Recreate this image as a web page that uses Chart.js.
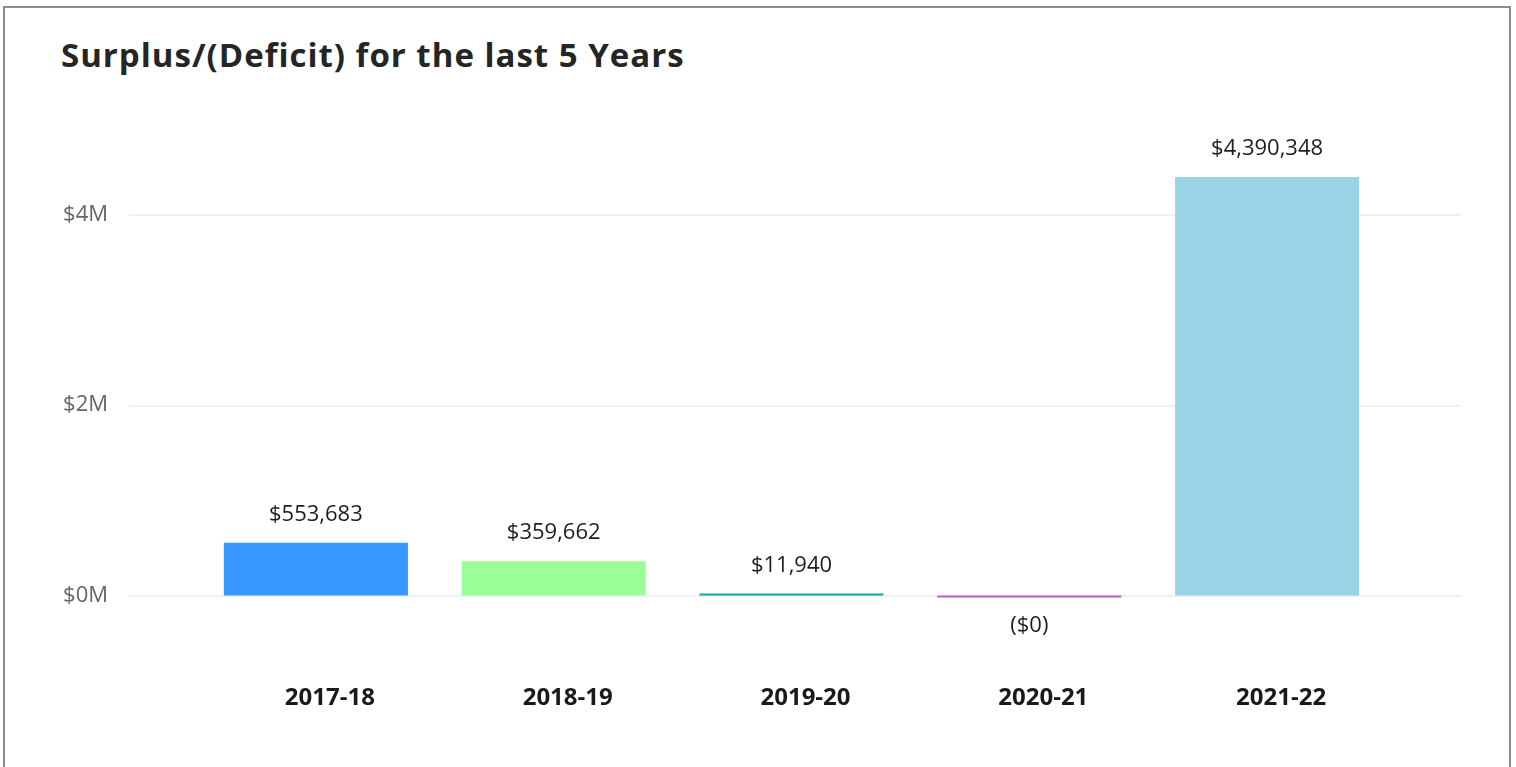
<!DOCTYPE html>
<html>
<head>
<meta charset="utf-8">
<title>Surplus/(Deficit) for the last 5 Years</title>
<script src="https://cdn.jsdelivr.net/npm/chart.js@4.4.1/dist/chart.umd.min.js"></script>
<style>
  html, body { margin: 0; padding: 0; background: #fff; overflow: hidden; }
  .frame {
    position: absolute; left: 3px; top: 6px; width: 1504px; height: 800px;
    border: 2px solid #8c8c8c; box-sizing: content-box;
  }
  .title {
    position: absolute; left: 61px; top: 38px; margin: 0;
    font: bold 33px 'Open Sans', sans-serif; line-height: 1; color: #252525;
    letter-spacing: 1px;
  }
  .chart-box { position: absolute; left: 0; top: 0; width: 1516px; height: 767px; }
</style>
</head>
<body>
<div class="frame"></div>
<h1 class="title">Surplus/(Deficit) for the last 5 Years</h1>
<div class="chart-box"><canvas id="surplusChart"></canvas></div>

<script>
// ===== Data =====
const years = ['2017-18', '2018-19', '2019-20', '2020-21', '2021-22'];
const surplus = [553683, 359662, 11940, -0.3, 4390348];
const barColors = ['#3798FF', '#9BFF99', '#07A8A6', '#BF5BC8', '#9AD3E6'];
const yTicks = [0, 2000000, 4000000];

const fontFamily = "'Open Sans', sans-serif";

// dollar formatting, negatives in brackets
function money(v) {
  const s = '$' + Math.abs(Math.round(v)).toLocaleString('en-US');
  return v < 0 ? '(' + s + ')' : s;
}

// ===== Gridlines that run past the bar area =====
const wideGrid = {
  id: 'wideGrid',
  beforeDatasetsDraw(chart) {
    const { ctx, chartArea, scales: { y } } = chart;
    ctx.save();
    ctx.strokeStyle = '#EFEFF6';
    ctx.lineWidth = 2;
    yTicks.forEach(v => {
      const py = Math.round(y.getPixelForValue(v)) + 1;
      ctx.beginPath();
      ctx.moveTo(chartArea.left - 68, py);
      ctx.lineTo(chartArea.right + 75, py);
      ctx.stroke();
    });
    ctx.restore();
  }
};

// ===== Value labels above / below each bar =====
const valueLabels = {
  id: 'valueLabels',
  afterDatasetsDraw(chart) {
    const { ctx } = chart;
    const meta = chart.getDatasetMeta(0);
    ctx.save();
    ctx.font = '22px ' + fontFamily;
    ctx.fillStyle = '#1e1e1e';
    ctx.textAlign = 'center';
    ctx.textBaseline = 'middle';
    meta.data.forEach((bar, i) => {
      const v = surplus[i];
      const py = v < 0 ? bar.y + 28 : bar.y - 28;
      ctx.fillText(money(v), bar.x, py);
    });
    ctx.restore();
  }
};

new Chart(document.getElementById('surplusChart'), {
  type: 'bar',
  data: {
    labels: years,
    datasets: [{
      data: surplus,
      backgroundColor: barColors,
      borderWidth: 0,
      minBarLength: 2,
      categoryPercentage: 1,
      barPercentage: 0.774,
    }]
  },
  options: {
    responsive: true,
    maintainAspectRatio: false,
    animation: false,
    layout: { padding: { left: 47, right: 130, top: 138, bottom: 32 } },
    plugins: {
      legend: { display: false },
      tooltip: { enabled: false },
      title: { display: false }
    },
    scales: {
      x: {
        grid: { display: false, drawTicks: false },
        border: { display: false },
        ticks: {
          padding: 22,
          labelOffset: 14,
          color: '#1a1a1a',
          font: { family: fontFamily, size: 24, weight: 'bold' }
        }
      },
      y: {
        min: -700000,
        max: 4800000,
        grid: { display: false, drawTicks: false },
        border: { display: false },
        afterBuildTicks: scale => { scale.ticks = yTicks.map(v => ({ value: v })); },
        afterFit: scale => { scale.width = 150; },
        ticks: {
          padding: 89,
          color: '#666',
          font: { family: fontFamily, size: 22 },
          callback: v => '$' + (v / 1000000) + 'M'
        }
      }
    }
  },
  plugins: [wideGrid, valueLabels]
});
</script>
</body>
</html>
